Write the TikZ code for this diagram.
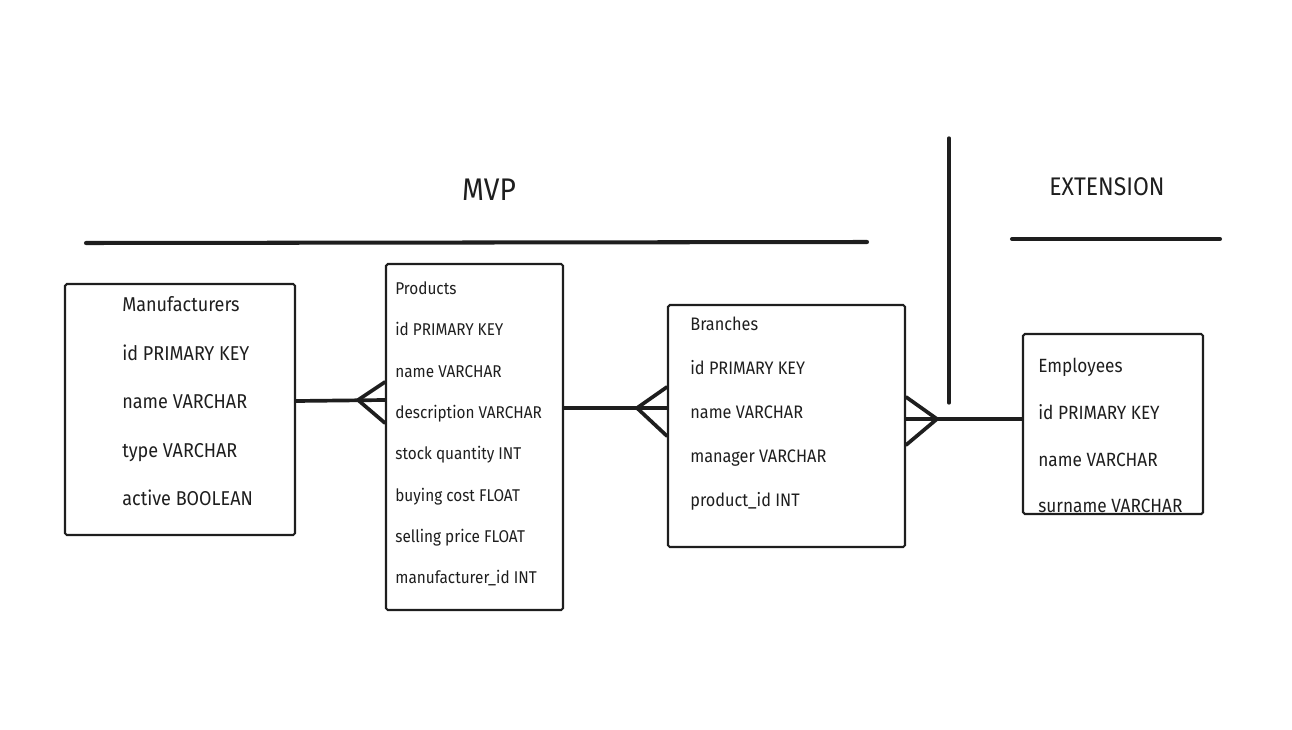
\documentclass[tikz,border=0pt]{standalone}
\usepackage{fontspec}
\setmainfont{Fira Sans}[FakeStretch=0.9]
\usetikzlibrary{fit}
\definecolor{ink}{HTML}{1E1E1E}
\tikzset{
  tablebox/.style={draw=ink, line width=1.2pt, inner sep=0pt, rounded corners=1pt},
  rel/.style={draw=ink, line width=2.1pt, line cap=round, line join=round},
  bar/.style={draw=ink, line width=2.3pt, line cap=round},
  row/.style={anchor=mid west, inner sep=0pt, text=ink},
  title/.style={text=ink, inner sep=0pt}
}
\begin{document}
\begin{tikzpicture}[x=0.02cm, y=-0.02cm]
\useasboundingbox (0,0) rectangle (1292,730);

%Ueberschriften
\node[title, font=\fontsize{17.8}{20}\selectfont] (mvp) at (489,190) {MVP};
\node[title, font=\fontsize{14.5}{17}\selectfont] (ext) at (1107,187) {EXTENSION};
\draw[bar] (86,243) -- (867,242);
\draw[bar] (1012,239) -- (1220,239);
\draw[bar, line width=1.9pt] (949,138) -- (949,403);

%Manufacturers
\node[tablebox, fit={(65,284) (295,535)}] (manu) {};
\foreach \txt [count=\i] in
{
Manufacturers,
id PRIMARY KEY,
name VARCHAR,
type VARCHAR,
active BOOLEAN
}
{
	\node[row, font=\fontsize{11.4}{13}\selectfont] (manu\i) at (122,{307+48.5*(\i-1)}) {\txt};
}

%Products
\node[tablebox, fit={(386,264) (563,610)}] (prod) {};
\foreach \txt [count=\i] in
{
Products,
id PRIMARY KEY,
name VARCHAR,
description VARCHAR,
stock quantity INT,
buying cost FLOAT,
selling price FLOAT,
manufacturer\_id INT
}
{
	\node[row, font=\fontsize{9.7}{11}\selectfont] (prod\i) at (395,{290+41.3*(\i-1)}) {\txt};
}

%Branches
\node[tablebox, fit={(668,305) (905,547)}] (branch) {};
\foreach \txt [count=\i] in
{
Branches,
id PRIMARY KEY,
name VARCHAR,
manager VARCHAR,
product\_id INT
}
{
	\node[row, font=\fontsize{10.3}{12}\selectfont] (branch\i) at (690,{326+44*(\i-1)}) {\txt};
}

%Employees
\node[tablebox, fit={(1023,334) (1203,514)}] (emp) {};
\foreach \txt [count=\i] in
{
Employees,
id PRIMARY KEY,
name VARCHAR,
surname VARCHAR
}
{
	\node[row, font=\fontsize{10.9}{12}\selectfont] (emp\i) at (1038,{368+46.7*(\i-1)}) {\txt};
}

%Beziehungen
\coordinate (f1) at (358,400);
\coordinate (f2) at (637,408);
\coordinate (f3) at (937,419);
\draw[rel] (manu.east |- 0,401) -- (prod.west |- f1);
\draw[rel] (prod.west |- 0,382) -- (f1) -- (prod.west |- 0,423);
\draw[rel] (prod.east |- f2) -- (branch.west |- f2);
\draw[rel] (branch.west |- 0,387) -- (f2) -- (branch.west |- 0,436);
\draw[rel] (branch.east |- f3) -- (emp.west |- f3);
\draw[rel] (branch.east |- 0,397) -- (f3) -- (branch.east |- 0,445);

\end{tikzpicture}
\end{document}
